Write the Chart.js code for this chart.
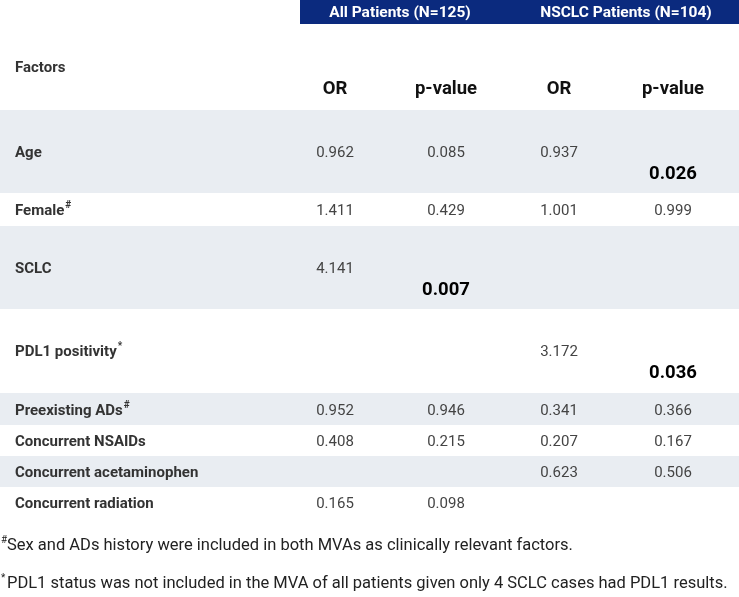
<!DOCTYPE html>
<html><head><meta charset="utf-8">
<script src="https://cdn.jsdelivr.net/npm/chart.js@4"></script>
<style>html,body{margin:0;padding:0;background:#fff}</style>
</head><body>
<canvas id="tbl" width="739" height="597"></canvas>
<script>
// table content
const groups = ['All Patients (N=125)', 'NSCLC Patients (N=104)']
const colHeads = ['OR', 'p-value', 'OR', 'p-value']
const factors = ['Age', 'Female', 'SCLC', 'PDL1 positivity', 'Preexisting ADs', 'Concurrent NSAIDs', 'Concurrent acetaminophen', 'Concurrent radiation']
const marks = ['', '#', '', '*', '#', '', '', '']
const allOR = ['0.962', '1.411', '4.141', '', '0.952', '0.408', '', '0.165']
const allP = ['0.085', '0.429', '0.007', '', '0.946', '0.215', '', '0.098']
const nsOR = ['0.937', '1.001', '', '3.172', '0.341', '0.207', '0.623', '']
const nsP = ['0.026', '0.999', '', '0.036', '0.366', '0.167', '0.506', '']
const significant = ['0.026', '0.007', '0.036']
const notes = [['#', 'Sex and ADs history were included in both MVAs as clinically relevant factors.'],
               ['*', 'PDL1 status was not included in the MVA of all patients given only 4 SCLC cases had PDL1 results.']]

// layout (in scale units == pixels)
const rowTop = [110, 193, 226, 309, 393, 425, 456, 487]
const rowBot = [193, 226, 309, 393, 425, 456, 487, 518]
const colX = [335, 446, 559, 673]
const font = 'Roboto, "Noto Sans", sans-serif'

function txt(c, s, x, y, size, bold, color, align){
    c.font = (bold ? 'bold ' : '') + size + 'px ' + font
    c.fillStyle = color
    c.textAlign = align || 'left'
    c.textBaseline = 'middle'
    c.fillText(s, x, y)
    return c.measureText(s).width
}

const tablePlugin = {
    id: 'table',
    afterDraw(chart){
        const c = chart.ctx, X = chart.scales.x, Y = chart.scales.y
        const px = v => X.getPixelForValue(v), py = v => Y.getPixelForValue(v)
        c.save()
        // header band
        c.fillStyle = '#0b2a7e'
        c.fillRect(px(300), py(0), px(739) - px(300), py(24) - py(0))
        txt(c, groups[0], px(400), py(13), 15.5, true, '#fff', 'center')
        txt(c, groups[1], px(626), py(13), 15.5, true, '#fff', 'center')
        txt(c, 'Factors', px(15), py(68), 15, true, '#333')
        colHeads.forEach((h, i) => txt(c, h, px(colX[i]), py(89), 18.5, true, '#111', 'center'))
        factors.forEach((f, i) => {
            const t = py(rowTop[i]), b = py(rowBot[i])
            if (i % 2 === 0){
                c.fillStyle = '#e9edf2'
                c.fillRect(px(0), t, px(739) - px(0), b - t)
            }
            const tall = rowBot[i] - rowTop[i] > 50
            const ly = (tall ? rowTop[i] + 41 : (rowTop[i] + rowBot[i]) / 2) + 2
            const w = txt(c, f, px(15), py(ly), 15, true, '#333')
            if (marks[i]) txt(c, marks[i], px(15) + w + 1, py(ly - 6), 10, true, '#333')
            const vals = [allOR[i], allP[i], nsOR[i], nsP[i]]
            vals.forEach((v, k) => {
                if (!v) return
                if (significant.includes(v)) txt(c, v, px(colX[k]), py(ly + 21), 18.5, true, '#000', 'center')
                else txt(c, v, px(colX[k]), py(ly), 15, false, '#444', 'center')
            })
        })
        notes.forEach((n, i) => {
            const y = i ? 584 : 546
            txt(c, n[0], px(1), py(y - 6), 10, false, '#222')
            txt(c, n[1], px(7), py(y), 16.5, false, '#222')
        })
        c.restore()
    }
}

new Chart(document.getElementById('tbl'), {
    type: 'scatter',
    data: {datasets: []},
    options: {
        responsive: false,
        animation: false,
        layout: {padding: 0},
        plugins: {legend: {display: false}, tooltip: {enabled: false}},
        scales: {
            x: {type: 'linear', min: 0, max: 739, display: false},
            y: {type: 'linear', min: 0, max: 597, reverse: true, display: false}
        }
    },
    plugins: [tablePlugin]
})
</script>
</body></html>
